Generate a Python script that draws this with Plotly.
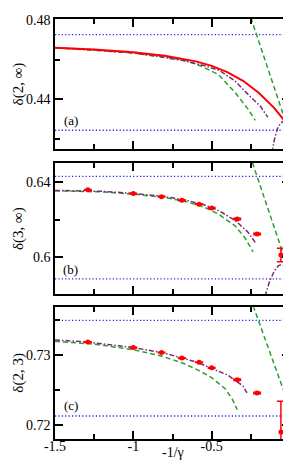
import plotly.graph_objects as go

# ---------------- data ----------------
x_ticks = [-1.5, -1.0, -0.5, 0.0]
x_ticktext = ["-1.5", "-1", "-0.5", "0"]

# panel (a)
a_red_x = [-1.5, -1.25, -1.0, -0.8, -0.6, -0.5, -0.4, -0.3, -0.2, -0.15, -0.1, -0.05, 0.0]
a_red_y = [0.4660, 0.4651, 0.4637, 0.4619, 0.4591, 0.4568, 0.4537, 0.4493, 0.4432, 0.4396, 0.4355, 0.4306, 0.4250]
a_green_x = [-1.5, -1.25, -1.0, -0.8, -0.665, -0.56, -0.456, -0.35, -0.268, -0.222]
a_green_y = [0.4660, 0.4649, 0.4633, 0.4614, 0.4595, 0.4565, 0.4524, 0.4433, 0.4350, 0.4293]
a_purple_x = [-1.5, -1.0, -0.7, -0.55, -0.45, -0.35, -0.25, -0.19, -0.142]
a_purple_y = [0.4660, 0.4634, 0.4598, 0.4570, 0.4545, 0.4491, 0.4410, 0.4365, 0.4309]
a_arch_x = [-0.115, -0.1, -0.08, -0.06, -0.045, -0.03, -0.015, 0.0]
a_arch_y = [0.4130, 0.4195, 0.4251, 0.4278, 0.4287, 0.4289, 0.4280, 0.4262]
a_steep_x = [-0.25, -0.02]
a_steep_y = [0.4812, 0.4268]
a_bounds = [0.4726, 0.4243]

# panel (b)
pts_x = [-1.29, -1.0, -0.82, -0.69, -0.58, -0.5, -0.337, -0.21, -0.058]
b_pts_y = [0.6360, 0.6340, 0.6323, 0.6304, 0.6283, 0.6263, 0.6204, 0.6123, 0.6011]
b_pts_err = [0.0002, 0.0002, 0.0002, 0.0002, 0.0002, 0.0002, 0.0004, 0.0004, 0.0036]
b_green_x = [-1.5, -1.2, -1.0, -0.8, -0.665, -0.55, -0.456, -0.351, -0.289, -0.236]
b_green_y = [0.6355, 0.6349, 0.6337, 0.6319, 0.6297, 0.6268, 0.6230, 0.6167, 0.6105, 0.6028]
b_purple_x = [-1.5, -1.2, -1.0, -0.8, -0.665, -0.55, -0.456, -0.351, -0.268, -0.215]
b_purple_y = [0.6357, 0.6352, 0.6341, 0.6324, 0.6305, 0.6280, 0.6249, 0.6197, 0.6133, 0.6071]
b_arch_x = [-0.16, -0.13, -0.1, -0.075, -0.055, -0.035, -0.015, 0.0]
b_arch_y = [0.5790, 0.5870, 0.5926, 0.5953, 0.5961, 0.5953, 0.5930, 0.5909]
b_steep_x = [-0.24, 0.0]
b_steep_y = [0.6506, 0.5909]
b_bounds = [0.6432, 0.5883]

# panel (c)
c_pts_y = [0.7319, 0.7311, 0.7304, 0.7296, 0.7290, 0.7282, 0.7265, 0.7246, 0.7190]
c_pts_err = [0.00005, 0.00005, 0.00005, 0.00005, 0.00005, 0.00005, 0.0001, 0.0001, 0.0044]
c_green_x = [-1.5, -1.25, -1.0, -0.82, -0.686, -0.58, -0.5, -0.414, -0.37, -0.337]
c_green_y = [0.7320, 0.7316, 0.7308, 0.7299, 0.7289, 0.7278, 0.7268, 0.7252, 0.7238, 0.7222]
c_purple_x = [-1.5, -1.29, -1.0, -0.82, -0.686, -0.58, -0.5, -0.4, -0.337, -0.3, -0.275]
c_purple_y = [0.7322, 0.7319, 0.7311, 0.7304, 0.7296, 0.7289, 0.7281, 0.7272, 0.7262, 0.7256, 0.7246]
c_tail_x = [-0.04, -0.02, 0.0]
c_tail_y = [0.7199, 0.7212, 0.7224]
c_steep_x = [-0.235, 0.0]
c_steep_y = [0.7371, 0.7224]
c_bounds = [0.7350, 0.7213]

y_titles = ["δ(2, ∞)", "δ(3, ∞)", "δ(2, 3)"]
panel_labels = ["(a)", "(b)", "(c)"]

# ---------------- style ----------------
RED = "#ff0000"
GREEN = "#2e9e2e"
PURPLE = "#7a2a78"
BLUE = "#2020ff"
FONT = "Liberation Serif"
DASH = "5px,3px"
DASHDOT = "5px,2px,1.5px,2px"
DOT = "1.2px,2.2px"

fig = go.Figure()


def line(x, y, color, dash, width, ax):
    fig.add_trace(go.Scatter(x=x, y=y, mode="lines", line=dict(color=color, dash=dash, width=width),
                             xaxis="x" + ax, yaxis="y" + ax, showlegend=False, hoverinfo="skip"))


def bounds(vals, ax):
    for v in vals:
        line([-1.5, 0.0], [v, v], BLUE, DOT, 1.3, ax)


def points(y, err, ax):
    fig.add_trace(go.Scatter(x=pts_x, y=y, mode="markers",
                             marker=dict(color=RED, size=5, symbol="circle"),
                             error_y=dict(type="data", array=err, color=RED, thickness=1.5, width=4),
                             xaxis="x" + ax, yaxis="y" + ax, showlegend=False))


# panel a -> axis suffix ""
bounds(a_bounds, "")
line(a_green_x, a_green_y, GREEN, DASH, 1.5, "")
line(a_steep_x, a_steep_y, GREEN, DASH, 1.5, "")
line(a_purple_x, a_purple_y, PURPLE, DASHDOT, 1.5, "")
line(a_arch_x, a_arch_y, PURPLE, DASHDOT, 1.5, "")
line(a_red_x, a_red_y, RED, "solid", 2, "")

# panel b
bounds(b_bounds, "2")
line(b_green_x, b_green_y, GREEN, DASH, 1.5, "2")
line(b_steep_x, b_steep_y, GREEN, DASH, 1.5, "2")
line(b_purple_x, b_purple_y, PURPLE, DASHDOT, 1.5, "2")
line(b_arch_x, b_arch_y, PURPLE, DASHDOT, 1.5, "2")
points(b_pts_y, b_pts_err, "2")

# panel c
bounds(c_bounds, "3")
line(c_green_x, c_green_y, GREEN, DASH, 1.5, "3")
line(c_steep_x, c_steep_y, GREEN, DASH, 1.5, "3")
line(c_purple_x, c_purple_y, PURPLE, DASHDOT, 1.5, "3")
line(c_tail_x, c_tail_y, PURPLE, DASHDOT, 1.5, "3")
points(c_pts_y, c_pts_err, "3")

axis_common = dict(showline=True, linecolor="black", linewidth=1.6, mirror="allticks",
                   ticks="inside", ticklen=8, tickwidth=1.5, tickcolor="black",
                   showgrid=False, zeroline=False,
                   tickfont=dict(family=FONT, size=14, color="black"))

def xaxis(anchor, show):
    d = dict(axis_common)
    d.update(range=[-1.5, 0.0], domain=[0, 1], anchor=anchor,
             tickmode="array", tickvals=x_ticks, ticktext=x_ticktext,
             showticklabels=show,
             minor=dict(tickmode="array", tickvals=[-1.25, -0.75, -0.25], ticks="inside",
                        ticklen=5, tickwidth=1.5, tickcolor="black"))
    if show:
        d.update(ticklabelstandoff=-7, ticklabeloverflow="allow")
    return d

def yaxis(anchor, dom, rng, tv, tt, mv):
    d = dict(axis_common)
    d.update(range=rng, domain=dom, anchor=anchor, tickmode="array", tickvals=tv, ticktext=tt,
             minor=dict(tickmode="array", tickvals=mv, ticks="inside",
                        ticklen=5, tickwidth=1.5, tickcolor="black"))
    return d

dom_a = [0.6913, 1.0]
dom_b = [0.3451, 0.6573]
dom_c = [0.0, 0.3139]

fig.update_layout(
    width=291, height=462,
    margin=dict(l=47, r=5, t=5, b=31),
    paper_bgcolor="white", plot_bgcolor="white",
    showlegend=False,
    xaxis=xaxis("y", False),
    xaxis2=xaxis("y2", False),
    xaxis3=xaxis("y3", True),
    yaxis=yaxis("x", dom_a, [0.415, 0.4805], [0.44, 0.48], ["0.44", "0.48"], [0.42, 0.46]),
    yaxis2=yaxis("x2", dom_b, [0.5802, 0.6504], [0.6, 0.64], ["0.6", "0.64"], [0.58, 0.62]),
    yaxis3=yaxis("x3", dom_c, [0.718, 0.7369], [0.72, 0.73], ["0.72", "0.73"], [0.725, 0.735]),
)

annotations = []
label_y = [0.217, 0.188, 0.252]
yrefs = ["y domain", "y2 domain", "y3 domain"]
xrefs = ["x domain", "x2 domain", "x3 domain"]
for i in range(3):
    annotations.append(dict(text=y_titles[i], xref="paper", yref=yrefs[i], x=-0.155, y=0.5,
                            xanchor="center", yanchor="middle", textangle=-90, showarrow=False,
                            font=dict(family=FONT, size=15, color="black")))
    annotations.append(dict(text=panel_labels[i], xref=xrefs[i],
                            yref=yrefs[i], x=0.067, y=label_y[i], xanchor="center", yanchor="middle",
                            showarrow=False, font=dict(family=FONT, size=13, color="black")))
annotations.append(dict(text="-1/γ", xref="paper", yref="paper", x=0.5, y=-0.033,
                        xanchor="center", yanchor="middle", showarrow=False,
                        font=dict(family=FONT, size=14, color="black")))
fig.update_layout(annotations=annotations)

fig.write_html("out.html")
